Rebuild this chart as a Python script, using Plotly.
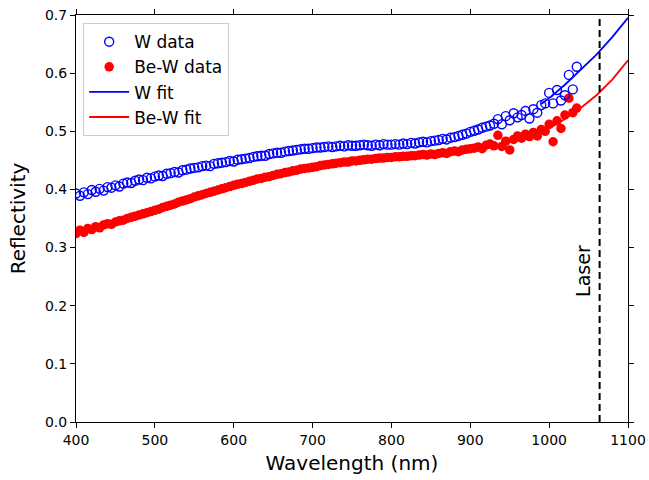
import plotly.graph_objects as go

wavelength = list(range(400, 1040, 5))

w_data = [
    .393, .389, .395, .392, .399, .396, .401, .398, .404, .403, .407, .405, .410, .412, .411, .415, .417, .416, .420, .419,
    .422, .424, .423, .427, .428, .430, .429, .433, .434, .436, .437, .438, .440, .441, .440, .444, .445, .446, .447, .449,
    .448, .451, .452, .453, .454, .456, .457, .458, .458, .461, .462, .463, .463, .465, .466, .467, .468, .469, .470, .470,
    .471, .472, .472, .473, .474, .473, .474, .475, .474, .476, .475, .475, .476, .477, .476, .475, .477, .476, .478, .477,
    .477, .478, .477, .479, .478, .480, .479, .481, .482, .481, .483, .484, .485, .487, .486, .489, .490, .492, .494, .496,
    .499, .501, .503, .506, .508, .510, .513, .521, .512, .526, .519, .531, .524, .528, .535, .522, .538, .532, .545, .548,
    .566, .548, .571, .553, .562, .597, .572, .611,
]

bew_data = [
    .324, .330, .326, .333, .331, .336, .334, .339, .341, .340, .344, .346, .347, .350, .352, .354, .356, .358, .360, .362,
    .364, .366, .369, .371, .373, .375, .378, .380, .382, .384, .387, .389, .391, .393, .395, .397, .399, .401, .403, .405,
    .407, .409, .410, .412, .414, .416, .418, .419, .421, .422, .424, .426, .427, .429, .430, .432, .433, .435, .436, .437,
    .438, .439, .441, .442, .443, .444, .445, .446, .447, .447, .449, .449, .450, .451, .452, .452, .453, .454, .454, .455,
    .455, .456, .456, .457, .457, .458, .458, .459, .460, .459, .461, .460, .462, .463, .462, .465, .466, .465, .468, .469,
    .470, .471, .473, .470, .476, .478, .475, .493, .474, .483, .468, .486, .492, .488, .495, .491, .498, .492, .503, .500,
    .512, .482, .518, .505, .528, .557, .532, .540,
]

fit_wavelength = [990, 1000, 1020, 1040, 1060, 1080, 1100]
w_fit = [0.547, 0.557, 0.580, 0.606, 0.632, 0.662, 0.695]
bew_fit = [0.499, 0.505, 0.521, 0.540, 0.562, 0.589, 0.622]

laser_nm = 1064

FONT = "DejaVu Sans"

fig = go.Figure()
fig.add_trace(go.Scatter(x=fit_wavelength, y=w_fit, mode="lines", name="W fit",
                         line=dict(color="#0000ff", width=1.8), legendrank=3))
fig.add_trace(go.Scatter(x=fit_wavelength, y=bew_fit, mode="lines", name="Be-W fit",
                         line=dict(color="#ff0000", width=1.8), legendrank=4))
fig.add_trace(go.Scatter(x=wavelength, y=bew_data, mode="markers", name="Be-W data",
                         marker=dict(symbol="circle", size=9.5, color="#ff0000"), legendrank=2))
fig.add_trace(go.Scatter(x=wavelength, y=w_data, mode="markers", name="W data",
                         marker=dict(symbol="circle-open", size=9, color="#0000ff",
                                     line=dict(width=1.4, color="#0000ff")), legendrank=1))

fig.add_shape(type="line", x0=laser_nm, x1=laser_nm, y0=0, y1=0.7, xref="x", yref="y",
              line=dict(color="black", width=2, dash="7px,4px"))
fig.add_annotation(x=1043, y=0.26, text="Laser", textangle=-90, showarrow=False,
                   font=dict(family=FONT, size=19, color="black"))

axis_common = dict(showline=True, linecolor="black", linewidth=1, mirror="ticks",
                   ticks="outside", ticklen=5, tickcolor="black", showgrid=False, zeroline=False,
                   automargin=False,
                   tickfont=dict(family=FONT, size=14, color="black"))

fig.update_xaxes(range=[400, 1100], dtick=100, tick0=400,
                 title=dict(text="Wavelength (nm)", font=dict(family=FONT, size=20, color="black"), standoff=9),
                 **axis_common)
fig.update_yaxes(range=[0, 0.7], dtick=0.1, tickformat=".1f",
                 title=dict(text="Reflectivity", font=dict(family=FONT, size=20, color="black"), standoff=13),
                 **axis_common)

fig.update_layout(
    width=649, height=480,
    margin=dict(l=76, r=21, t=15, b=58),
    plot_bgcolor="white", paper_bgcolor="white",
    font=dict(family=FONT, color="black"),
    legend=dict(x=0.013, y=0.98, xanchor="left", yanchor="top",
                bordercolor="#cccccc", borderwidth=1, bgcolor="rgba(255,255,255,0.8)",
                font=dict(family=FONT, size=17, color="black"), itemwidth=40),
    showlegend=True,
)

fig.write_html("out.html", config={"displayModeBar": False},
               post_script="document.body.style.margin='0';")
